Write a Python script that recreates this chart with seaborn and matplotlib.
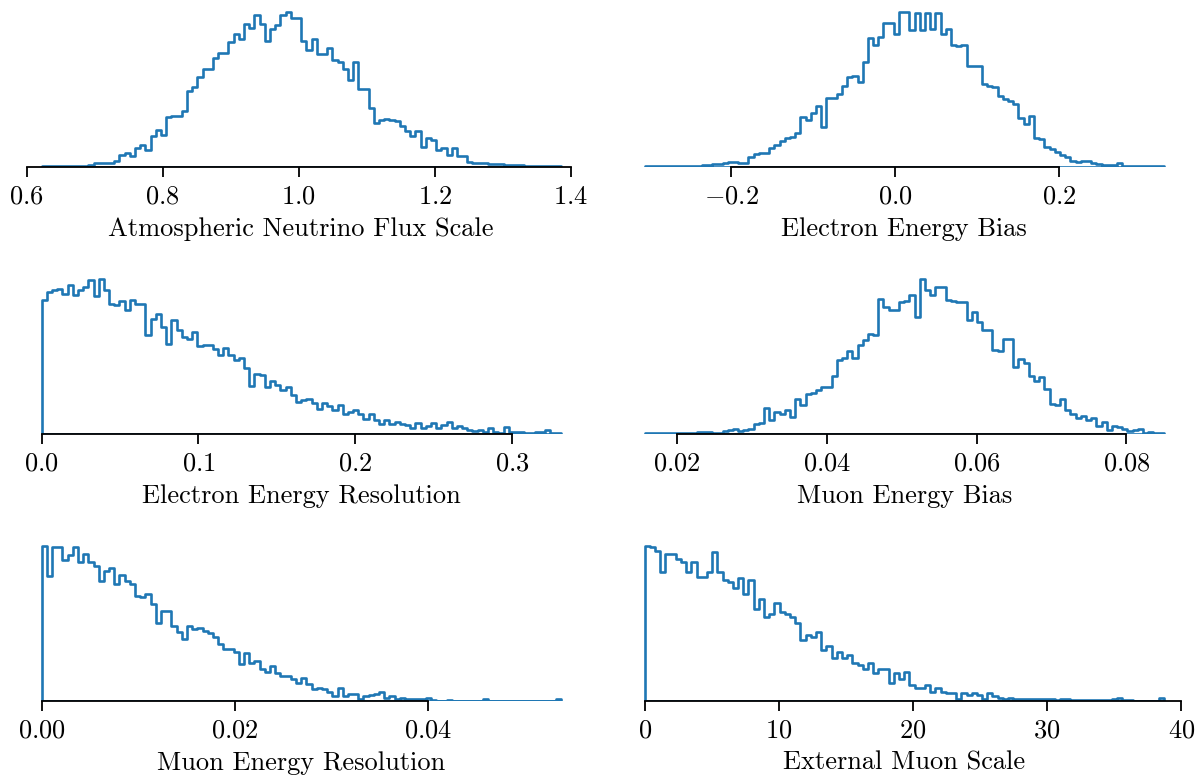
import numpy as np
import pandas as pd
import matplotlib
matplotlib.use("Agg")
import matplotlib.pyplot as plt
import seaborn as sns

# bin ranges of each posterior histogram (100 bins each)
flux_range = (0.622, 1.385)
ebias_range = (-0.306, 0.328)
eres_range = (0.0, 0.331)
mbias_range = (0.0157, 0.0850)
mres_range = (0.0, 0.0538)
extmu_range = (0.0, 38.7)

# bin heights (relative units)
flux_counts = [1, 1, 1, 2, 2, 3, 2, 3, 3, 6, 10, 10, 12, 12, 18, 35, 40, 32, 55, 65,
               50, 90, 110, 95, 148, 150, 150, 165, 225, 237, 265, 290, 290, 323, 337, 337, 370, 395, 380, 423,
               413, 450, 423, 373, 410, 420, 450, 460, 440, 440, 373, 345, 380, 335, 335, 352, 318, 310, 290, 257,
               310, 230, 230, 175, 130, 140, 143, 140, 135, 120, 107, 90, 105, 60, 85, 78, 50, 55, 35, 55,
               33, 33, 15, 12, 12, 12, 8, 7, 8, 5, 6, 4, 4, 3, 3, 2, 2, 1, 2, 1]

ebias_counts = [1, 1, 1, 2, 1, 2, 2, 2, 2, 3, 3, 6, 6, 7, 8, 12, 14, 13, 10, 10,
                30, 38, 40, 42, 55, 65, 75, 85, 88, 100, 147, 140, 160, 180, 117, 205, 205, 215, 240, 265,
                268, 250, 310, 383, 360, 385, 425, 425, 395, 460, 458, 407, 455, 407, 455, 410, 455, 395, 410, 360,
                358, 362, 300, 300, 300, 245, 240, 238, 210, 200, 195, 185, 145, 127, 150, 85, 82, 58, 52, 45,
                35, 28, 18, 15, 17, 17, 10, 8, 6, 5, 4, 10, 3, 2, 2, 2, 1, 1, 1, 2]

eres_counts = [400, 425, 432, 435, 420, 445, 415, 432, 440, 460, 412, 465, 430, 390, 385, 398, 370, 400, 390, 390,
               295, 345, 360, 320, 270, 340, 310, 290, 285, 305, 262, 265, 265, 255, 235, 258, 235, 222, 228, 198,
               142, 180, 175, 140, 158, 145, 130, 140, 115, 95, 100, 105, 92, 75, 92, 82, 72, 85, 58, 65,
               72, 58, 45, 58, 42, 30, 42, 30, 35, 30, 25, 18, 32, 18, 22, 32, 18, 25, 35, 18,
               22, 18, 12, 8, 10, 5, 18, 5, 3, 20, 5, 5, 5, 2, 2, 5, 5, 10, 2, 3]

mbias_counts = [1, 1, 1, 1, 2, 1, 2, 2, 2, 1, 4, 5, 4, 3, 3, 8, 10, 15, 8, 12,
                15, 28, 32, 78, 40, 65, 60, 72, 50, 105, 85, 118, 122, 130, 140, 140, 172, 222, 227, 248,
                227, 265, 282, 298, 295, 405, 380, 370, 370, 395, 398, 415, 350, 465, 430, 415, 440, 440, 402, 398,
                395, 395, 340, 365, 335, 310, 310, 250, 248, 285, 285, 200, 225, 212, 172, 158, 170, 135, 90, 85,
                105, 70, 60, 48, 52, 42, 48, 22, 35, 10, 22, 20, 15, 8, 10, 15, 2, 4, 3, 3]

mres_counts = [465, 375, 460, 460, 423, 437, 460, 417, 440, 415, 403, 360, 390, 397, 350, 377, 360, 350, 315, 313,
               320, 290, 235, 270, 270, 225, 207, 185, 225, 217, 220, 210, 203, 193, 170, 155, 155, 147, 110, 145,
               115, 120, 95, 87, 105, 83, 75, 75, 65, 55, 70, 50, 37, 40, 35, 27, 15, 40, 15, 20,
               20, 7, 15, 17, 20, 27, 10, 15, 5, 10, 5, 7, 5, 5, 10, 3, 1, 1, 3, 1,
               1, 1, 1, 1, 1, 7, 1, 1, 1, 0, 0, 0, 0, 0, 0, 0, 0, 0, 0, 7]

extmu_counts = [465, 460, 450, 387, 440, 440, 425, 415, 385, 417, 370, 370, 385, 445, 387, 363, 355, 337, 367, 320,
                363, 275, 305, 253, 260, 295, 267, 260, 253, 235, 183, 197, 193, 207, 153, 165, 130, 147, 130, 137,
                115, 107, 97, 115, 83, 95, 97, 53, 83, 65, 87, 47, 40, 40, 47, 27, 40, 27, 23, 25,
                7, 23, 17, 23, 17, 5, 23, 15, 10, 7, 10, 5, 5, 5, 7, 7, 5, 5, 5, 3,
                5, 5, 3, 3, 3, 3, 3, 3, 3, 3, 7, 10, 3, 3, 1, 1, 1, 1, 1, 10]

labels = ["Atmospheric Neutrino Flux Scale", "Electron Energy Bias",
          "Electron Energy Resolution", "Muon Energy Bias",
          "Muon Energy Resolution", "External Muon Scale"]
ticks = [[0.6, 0.8, 1.0, 1.2, 1.4], [-0.2, 0.0, 0.2],
         [0.0, 0.1, 0.2, 0.3], [0.02, 0.04, 0.06, 0.08],
         [0.0, 0.02, 0.04], [0, 10, 20, 30, 40]]
ranges = [flux_range, ebias_range, eres_range, mbias_range, mres_range, extmu_range]
counts = [flux_counts, ebias_counts, eres_counts, mbias_counts, mres_counts, extmu_counts]

sns.set_style("ticks")
plt.rcParams["font.family"] = "serif"
plt.rcParams["font.serif"] = ["cmr10", "DejaVu Serif"]
plt.rcParams["mathtext.fontset"] = "cm"
plt.rcParams["axes.formatter.use_mathtext"] = True
plt.rcParams["font.size"] = 19
for key in ["text.color", "axes.labelcolor", "xtick.color", "axes.edgecolor"]:
    plt.rcParams[key] = "black"

fig, axes = plt.subplots(3, 2, figsize=(12.03, 7.84), dpi=100)
fig.subplots_adjust(left=0.013, right=0.989, bottom=0.106, top=0.995, wspace=0.056, hspace=0.64)

for ax, rng, cnt, lab, tk in zip(axes.flat, ranges, counts, labels, ticks):
    nbins = len(cnt)
    width = (rng[1] - rng[0]) / nbins
    df = pd.DataFrame({"value": rng[0] + width * (np.arange(nbins) + 0.5), "n": cnt})
    # filled step with no face: outline drops to the baseline at both ends
    sns.histplot(data=df, x="value", weights="n", bins=nbins, binrange=rng,
                 element="step", fill=True, color="#1f77b4", facecolor="none",
                 edgecolor="#1f77b4", linewidth=1.9, ax=ax)
    ax.set_xticks(tk)
    ax.set_yticks([])
    ax.set_ylabel("")
    ax.set_xlabel(lab, labelpad=6)
    ax.tick_params(axis="x", length=7, width=1.3, labelsize=19, pad=6)
    ax.spines["bottom"].set_linewidth(1.3)
    ax.spines["bottom"].set_zorder(3)
    sns.despine(ax=ax, left=True, trim=True)

fig.savefig("out.png", dpi=100)
